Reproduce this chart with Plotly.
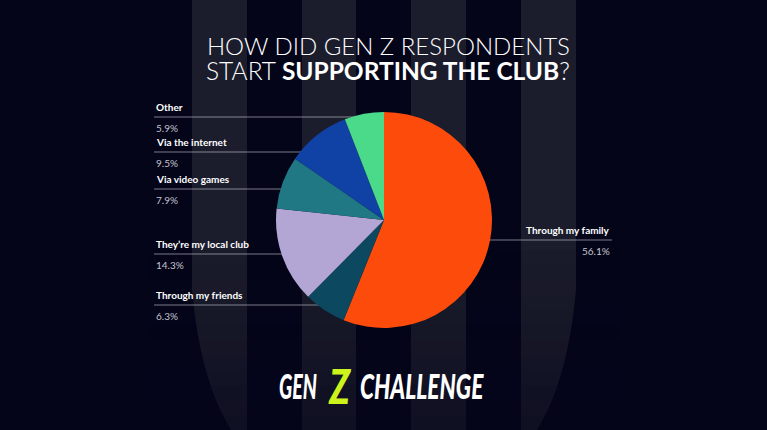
import plotly.graph_objects as go
import math

# ---------------- data ----------------
categories = ["Through my family", "Through my friends", "They\u2019re my local club",
              "Via video games", "Via the internet", "Other"]
shares = [56.1, 6.3, 14.3, 7.9, 9.5, 5.9]
pct_labels = ["56.1%", "6.3%", "14.3%", "7.9%", "9.5%", "5.9%"]
colors = ["#fc4b0b", "#0c4860", "#b3a6d5", "#1f7883", "#1042a6", "#4bd98a"]

# ---------------- layout constants (pixels) ----------------
W, H = 767, 430
CX, CY, R = 384, 220, 108
LEFT_X, RIGHT_X = 154, 612
label_rows = [240, 305, 254, 189, 152, 117]
label_side = ["right", "left", "left", "left", "left", "left"]

BG = "#05051a"
STRIPE = "#1c1d2c"

fig = go.Figure()

fig.add_trace(go.Pie(
    labels=categories, values=shares, sort=False, direction="clockwise",
    rotation=0, marker=dict(colors=colors, line=dict(width=0)),
    textinfo="none", hoverinfo="label+percent", showlegend=False,
    domain=dict(x=[(CX - R) / W, (CX + R) / W],
                y=[(H - CY - R) / H, (H - CY + R) / H]),
))

total = sum(shares)
cum = 0
ann = []
for cat, v, p, row, side in zip(categories, shares, pct_labels, label_rows, label_side):
    mid = (cum + v / 2) / total * 2 * math.pi
    cum += v
    dy = row - CY
    r = 0.96 * R
    if abs(dy) >= r:
        r = abs(dy) + 3
    dx = math.sqrt(r * r - dy * dy)
    ax = CX + (dx if math.sin(mid) > 0 else -dx)
    x_end = LEFT_X if side == "left" else RIGHT_X
    fig.add_trace(go.Scatter(x=[x_end, ax], y=[row, row], mode="lines",
                             line=dict(color="rgba(220,220,230,0.55)", width=1),
                             hoverinfo="skip", showlegend=False))
    fig.add_trace(go.Scatter(x=[ax], y=[row], mode="markers",
                             marker=dict(color="white", size=4),
                             hoverinfo="skip", showlegend=False))
    xa = "left" if side == "left" else "right"
    ann.append(dict(x=x_end, y=row - 2, xref="x", yref="y", xanchor=xa, yanchor="bottom",
                    text=f"<b>{cat}</b>", showarrow=False,
                    font=dict(family="Lato, Inter, sans-serif", size=10, color="white")))
    ann.append(dict(x=x_end, y=row + 3, xref="x", yref="y", xanchor=xa, yanchor="top",
                    text=p, showarrow=False,
                    font=dict(family="Lato, Inter, sans-serif", size=10, color="#c4c4cf")))

# title
ann.append(dict(x=388, y=45, xref="x", yref="y", xanchor="center", yanchor="middle",
                text="HOW DID GEN Z RESPONDENTS", showarrow=False,
                font=dict(family="Lato, sans-serif", size=24, color="white", weight=300)))
ann.append(dict(x=388, y=70, xref="x", yref="y", xanchor="center", yanchor="middle",
                text="START <b>SUPPORTING THE CLUB</b>?", showarrow=False,
                font=dict(family="Lato, sans-serif", size=24.5, color="white", weight=300)))

# logo: three pieces, each narrowed to its width
logo_parts = [("GEN", 298, 38, 34, "white"),
              ("Z", 339.5, 23, 48, "#cdf31d"),
              ("CHALLENGE", 421.5, 124, 34, "white")]
squeeze = []
for txt, xc, wpx, fs, col in logo_parts:
    squeeze.append((len(ann), wpx))
    ann.append(dict(x=xc, y=385, xref="x", yref="y", xanchor="center", yanchor="middle",
                    text=f"<i>{txt}</i>", showarrow=False, borderpad=0,
                    font=dict(family="Lato, DejaVu Sans, sans-serif", size=fs, color=col,
                              weight=900)))

# background stripes
shapes = []
stripe_x = [(192, 247), (302, 356), (411, 466), (521, 576)]
for i, (x0, x1) in enumerate(stripe_x):
    if i == 0:
        path = f"M {x0},0 L {x1},0 L {x1},{H} L 231,{H} Q 200,380 {x0},290 Z"
    elif i == len(stripe_x) - 1:
        path = f"M {x0},0 L {x1},0 L {x1},290 Q 568,380 537,{H} L {x0},{H} Z"
    else:
        path = f"M {x0},0 L {x1},0 L {x1},{H} L {x0},{H} Z"
    shapes.append(dict(type="path", path=path, xref="x", yref="y",
                       fillcolor=STRIPE, line=dict(width=0), layer="below"))
n = 12
for k in range(n):
    y0 = 250 + k * (H - 250) / n
    y1 = 250 + (k + 1) * (H - 250) / n
    shapes.append(dict(type="rect", x0=150, x1=620, y0=y0, y1=y1, xref="x", yref="y",
                       fillcolor=BG, opacity=0.05 + 0.045 * k, line=dict(width=0),
                       layer="below"))

fig.update_layout(
    width=W, height=H, margin=dict(l=0, r=0, t=0, b=0),
    paper_bgcolor=BG, plot_bgcolor="rgba(0,0,0,0)",
    xaxis=dict(range=[0, W], visible=False, fixedrange=True),
    yaxis=dict(range=[H, 0], visible=False, fixedrange=True),
    annotations=ann, shapes=shapes, showlegend=False,
)

squeeze_js = ",".join(f"[{i},{w}]" for i, w in squeeze)
post = """
document.body.style.margin='0';
document.body.style.background='%s';
var gd = document.getElementById('{plot_id}');
function squeezeLogo(){
  [%s].forEach(function(p){
    var g = gd.querySelector('.annotation[data-index="' + p[0] + '"]');
    if (!g) return;
    var t = g.querySelector('text');
    g.style.transform = '';
    var w = t.getBBox().width;
    if (w > 0) {
      g.style.transformBox = 'fill-box';
      g.style.transformOrigin = 'center';
      g.style.transform = 'scaleX(' + (p[1] / w) + ')';
    }
  });
}
squeezeLogo();
gd.on('plotly_afterplot', squeezeLogo);
""" % (BG, squeeze_js)

fig.write_html("out.html", config={"displayModeBar": False}, post_script=post)
